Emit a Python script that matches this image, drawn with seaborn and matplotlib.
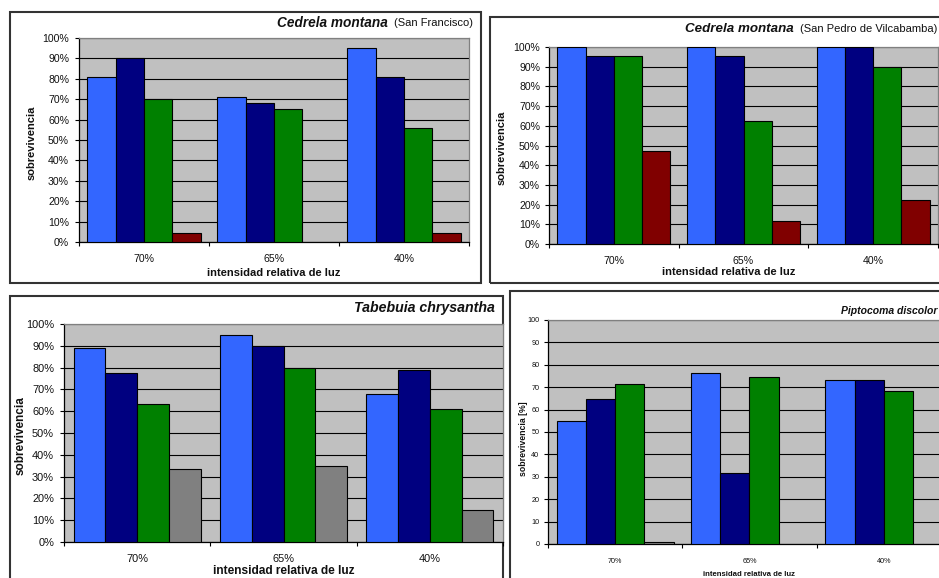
import numpy as np
import pandas as pd
import matplotlib
matplotlib.use("Agg")
import matplotlib.pyplot as plt
from matplotlib.patches import Rectangle
from matplotlib.ticker import FixedLocator, FuncFormatter
import seaborn as sns

sns.set_theme(style="white")
plt.rcParams["font.family"] = ["Liberation Sans", "DejaVu Sans"]

# ---- data -------------------------------------------------------------
luz = ["70%", "65%", "40%"]
series = ["t1", "t2", "t3", "t4"]

cedrela_sf_t1 = [81.0, 71.0, 95.0]
cedrela_sf_t2 = [90.0, 68.0, 81.0]
cedrela_sf_t3 = [70.0, 65.0, 56.0]
cedrela_sf_t4 = [4.3, np.nan, 4.3]

cedrela_spv_t1 = [100.0, 100.0, 100.0]
cedrela_spv_t2 = [95.2, 95.2, 100.0]
cedrela_spv_t3 = [95.2, 62.5, 90.0]
cedrela_spv_t4 = [47.4, 11.8, 22.2]

tabebuia_t1 = [88.9, 94.9, 68.0]
tabebuia_t2 = [77.6, 89.7, 78.8]
tabebuia_t3 = [63.2, 80.0, 61.0]
tabebuia_t4 = [33.3, 34.8, 14.9]

piptocoma_t1 = [54.7, 76.2, 73.4]
piptocoma_t2 = [64.8, 31.5, 73.4]
piptocoma_t3 = [71.3, 74.7, 68.4]
piptocoma_t4 = [1.0, np.nan, np.nan]

yticks = list(range(0, 101, 10))

# ---- styling ----------------------------------------------------------
BLUE, NAVY, GREEN, MAROON, GRAY = "#3366FF", "#000080", "#008000", "#800000", "#808080"
PLOT_BG = "#C0C0C0"
TXT = "#111111"
W, H = 939, 578
PT = 0.72  # points per pixel at 100 dpi

fig = plt.figure(figsize=(W / 100, H / 100), dpi=100)
fig.patch.set_facecolor("white")


def fx(x):
    return x / W


def fy(y):
    return 1 - y / H


def frame(x0, y0, x1, y1):
    fig.add_artist(Rectangle((fx(x0), fy(y1)), fx(x1) - fx(x0), fy(y0) - fy(y1),
                             transform=fig.transFigure, fill=False,
                             edgecolor="#333333", linewidth=1.5, zorder=0))


def to_frame(*cols):
    rows = []
    for s, vals in zip(series, cols):
        for cat, v in zip(luz, vals):
            rows.append({"luz": cat, "serie": s, "valor": v})
    return pd.DataFrame(rows)


def title_pair(right_x, y, species, place, sp_size, pl_size, gap=6):
    """Species name in bold italic followed by the site, right-aligned at right_x."""
    renderer = fig.canvas.get_renderer()
    if place:
        t = fig.text(fx(right_x), fy(y), place, fontsize=pl_size, ha="right",
                     va="center", color=TXT)
        x0 = t.get_window_extent(renderer).x0
        right_x = x0 - gap
    fig.text(fx(right_x), fy(y), species, fontsize=sp_size, fontweight="bold",
             fontstyle="italic", ha="right", va="center", color=TXT)


def panel(box, left, top, right, bottom, data, colors, pct, tick_fs, ypad, xpad):
    frame(*box)
    ax = fig.add_axes([fx(left), fy(bottom), fx(right) - fx(left), fy(top) - fy(bottom)])
    ax.set_facecolor(PLOT_BG)
    sns.barplot(data=data, x="luz", y="valor", hue="serie", hue_order=series,
                order=luz, palette=colors, saturation=1, width=0.87, gap=0,
                errorbar=None, edgecolor="black", linewidth=0.8, legend=False,
                ax=ax, zorder=3)
    ax.set_xlim(-0.5, 2.5)
    ax.set_ylim(0, 100)
    ax.set_xlabel("")
    ax.set_ylabel("")
    ax.set_axisbelow(True)
    ax.yaxis.set_major_locator(FixedLocator(yticks))
    if pct:
        ax.yaxis.set_major_formatter(FuncFormatter(lambda v, p: f"{int(v)}%"))
    else:
        ax.yaxis.set_major_formatter(FuncFormatter(lambda v, p: f"{int(v)}"))
    ax.grid(axis="y", color="black", linewidth=0.8)
    ax.grid(axis="x", visible=False)
    ax.set_xticks([-0.5, 0.5, 1.5, 2.5])
    ax.set_xticklabels([])
    ax.set_xticks([0, 1, 2], minor=True)
    ax.set_xticklabels(luz, minor=True)
    ax.tick_params(axis="x", which="major", length=4 * PT, width=0.8, color="black",
                   direction="out", bottom=True)
    ax.tick_params(axis="x", which="minor", length=0, pad=xpad, labelsize=tick_fs,
                   labelcolor=TXT)
    ax.tick_params(axis="y", length=4 * PT, width=0.8, color="black", direction="out",
                   left=True, pad=ypad, labelsize=tick_fs, labelcolor=TXT)
    for s in ("left", "bottom"):
        ax.spines[s].set_color("black")
        ax.spines[s].set_linewidth(0.9)
    for s in ("top", "right"):
        ax.spines[s].set_color(GRAY)
        ax.spines[s].set_linewidth(0.9)
    return ax


# Cedrela montana (San Francisco)
panel((10, 12, 481, 283), 79, 38, 469, 242,
      to_frame(cedrela_sf_t1, cedrela_sf_t2, cedrela_sf_t3, cedrela_sf_t4),
      [BLUE, NAVY, GREEN, MAROON], True, 7.6, 4.3, 8.6)
title_pair(473, 23, "Cedrela montana", "(San Francisco)", 9.8, 8)
fig.text(fx(32), fy(143), "sobrevivencia", fontsize=8, fontweight="bold",
         rotation=90, ha="center", va="center", color=TXT)
fig.text(fx(274), fy(273), "intensidad relativa de luz", fontsize=8,
         fontweight="bold", ha="center", va="center", color=TXT)

# Cedrela montana (San Pedro de Vilcabamba)
panel((490, 17, 990, 283), 549, 47, 938, 244,
      to_frame(cedrela_spv_t1, cedrela_spv_t2, cedrela_spv_t3, cedrela_spv_t4),
      [BLUE, NAVY, GREEN, MAROON], True, 7.6, 3.6, 8.7)
title_pair(937, 29, "Cedrela montana", "(San Pedro de Vilcabamba)", 9.6, 8)
fig.text(fx(502), fy(148), "sobrevivencia", fontsize=8, fontweight="bold",
         rotation=90, ha="center", va="center", color=TXT)
fig.text(fx(729), fy(272), "intensidad relativa de luz", fontsize=8,
         fontweight="bold", ha="center", va="center", color=TXT)

# Tabebuia chrysantha
panel((10, 296, 503, 620), 64, 324, 503, 542,
      to_frame(tabebuia_t1, tabebuia_t2, tabebuia_t3, tabebuia_t4),
      [BLUE, NAVY, GREEN, GRAY], True, 7.9, 4.3, 8.6)
title_pair(495, 308, "Tabebuia chrysantha", None, 10.2, 8)
fig.text(fx(21), fy(436), "sobrevivencia", fontsize=8.5, fontweight="bold",
         rotation=90, ha="center", va="center", color=TXT)
fig.text(fx(284), fy(571), "intensidad relativa de luz", fontsize=8.6,
         fontweight="bold", ha="center", va="center", color=TXT)

# Piptocoma discolor
panel((510, 291, 990, 620), 548, 320, 951, 544,
      to_frame(piptocoma_t1, piptocoma_t2, piptocoma_t3, piptocoma_t4),
      [BLUE, NAVY, GREEN, GRAY], False, 5.2, 3.4, 10.0)
title_pair(937, 311, "Piptocoma discolor", None, 7.5, 8)
fig.text(fx(523), fy(439), "sobrevivencia [%]", fontsize=6.3, fontweight="bold",
         rotation=90, ha="center", va="center", color=TXT)
fig.text(fx(749), fy(574), "intensidad relativa de luz", fontsize=5.6,
         fontweight="bold", ha="center", va="center", color=TXT)

fig.savefig("out.png", dpi=100, facecolor="white")
